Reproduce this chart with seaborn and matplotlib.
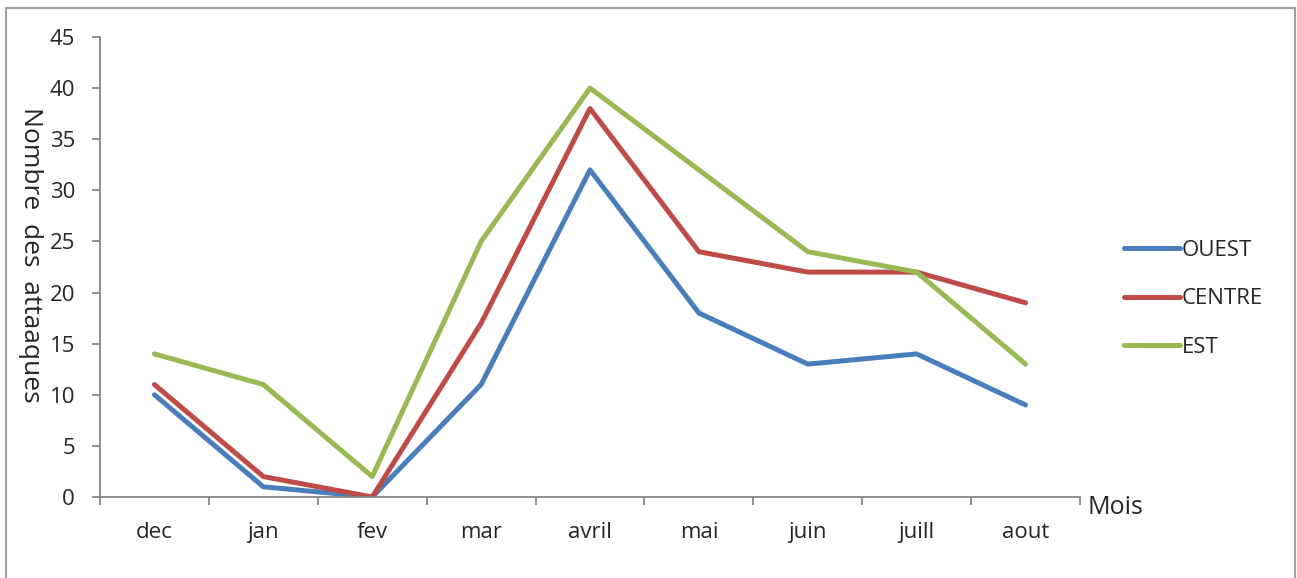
import matplotlib
matplotlib.use("Agg")
import matplotlib.pyplot as plt
import seaborn as sns
import pandas as pd
from matplotlib.patches import Rectangle

# %% Données
mois = ["dec", "jan", "fev", "mar", "avril", "mai", "juin", "juill", "aout"]
ouest = [10, 1, 0, 11, 32, 18, 13, 14, 9]
centre = [11, 2, 0, 17, 38, 24, 22, 22, 19]
est = [14, 11, 2, 25, 40, 32, 24, 22, 13]
regions = ["OUEST", "CENTRE", "EST"]
couleurs = ["#4a7ebb", "#be4b48", "#98b954"]

df = pd.DataFrame({"Mois": mois * 3,
                   "Attaques": ouest + centre + est,
                   "Region": [r for r in regions for _ in mois]})

# %% Figure
sns.set_style("white")
plt.rcParams["font.family"] = ["Open Sans", "DejaVu Sans"]

fig = plt.figure(figsize=(12.97, 5.78), dpi=100)
ax = fig.add_axes([100/1297, 1 - 497/578, 980/1297, 460/578])

sns.lineplot(data=df, x="Mois", y="Attaques", hue="Region", palette=couleurs,
             linewidth=3.6, sort=False, ax=ax)

ax.set_xlim(-0.5, 8.5)
ax.set_ylim(0, 45)
ax.set_yticks(range(0, 50, 5))
ax.set_xticks(range(len(mois)))
ax.set_xticklabels(mois)
ax.set_xticks([i - 0.5 for i in range(len(mois) + 1)], minor=True)
ax.tick_params(axis="x", which="major", length=0, pad=18, labelsize=16)
ax.tick_params(axis="x", which="minor", length=6, width=1.3, color="#868686", direction="out")
ax.tick_params(axis="y", length=6, width=1.3, color="#868686", direction="out", pad=12, labelsize=16)
ax.xaxis.set_tick_params(bottom=True, which="both")
ax.yaxis.set_tick_params(left=True)

for s in ["top", "right"]:
    ax.spines[s].set_visible(False)
for s in ["left", "bottom"]:
    ax.spines[s].set_color("#868686")
    ax.spines[s].set_linewidth(1.3)

ax.set_xlabel("")
ax.set_ylabel("")
fig.text(30/1297, 1 - 255/578, "Nombre  des  attaaques", rotation=270,
         ha="center", va="center", fontsize=19)
fig.text(1088/1297, 1 - 508/578, "Mois", ha="left", va="center", fontsize=18)

ax.legend_.remove()
handles, labels = ax.get_legend_handles_labels()
fig.legend(handles, labels, loc="center left", bbox_to_anchor=(1124/1297, 1 - 299/578),
           frameon=False, fontsize=16, handlelength=2.5, handletextpad=0.1,
           labelspacing=1.25, borderpad=0, borderaxespad=0)

# cadre autour du graphique
fig.patches.append(Rectangle((6/1297, -0.01), 1289/1297, 1 - 8/578 + 0.01,
                             transform=fig.transFigure, fill=False,
                             edgecolor="#a0a0a0", linewidth=1.5))

fig.savefig("out.png", dpi=100)
